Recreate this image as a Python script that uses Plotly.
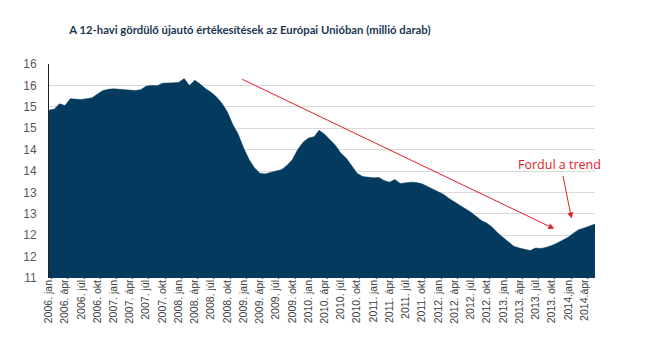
import plotly.graph_objects as go
import pandas as pd

title_text = "A 12-havi gördülő újautó értékesítések az Európai Unióban (millió darab)"

# monthly 12-month rolling sales, million units, 2006 Jan .. 2014 Jun
sales = [
    14.92, 14.95, 15.07, 15.03, 15.19, 15.18, 15.17, 15.19, 15.21, 15.30, 15.38, 15.41,  # 2006
    15.42, 15.41, 15.40, 15.40, 15.38, 15.40, 15.48, 15.50, 15.49, 15.55, 15.55, 15.56,  # 2007
    15.57, 15.66, 15.50, 15.62, 15.53, 15.42, 15.34, 15.23, 15.08, 14.88, 14.58, 14.36,  # 2008
    14.03, 13.76, 13.58, 13.45, 13.43, 13.47, 13.50, 13.53, 13.63, 13.76, 14.00, 14.17,  # 2009
    14.27, 14.30, 14.45, 14.36, 14.22, 14.10, 13.92, 13.80, 13.62, 13.45, 13.37, 13.35,  # 2010
    13.34, 13.35, 13.28, 13.24, 13.30, 13.21, 13.22, 13.24, 13.23, 13.20, 13.14, 13.08,  # 2011
    13.03, 12.95, 12.86, 12.78, 12.70, 12.62, 12.54, 12.44, 12.34, 12.28, 12.18, 12.05,  # 2012
    11.95, 11.84, 11.74, 11.70, 11.67, 11.64, 11.70, 11.69, 11.72, 11.76, 11.82, 11.88,  # 2013
    11.95, 12.05, 12.13, 12.17, 12.22, 12.26,                                            # 2014
]
start_month = "2006-01-01"

tick_dates = [
    "2006-01-01", "2006-04-01", "2006-07-01", "2006-10-01",
    "2007-01-01", "2007-04-01", "2007-07-01", "2007-10-01",
    "2008-01-01", "2008-04-01", "2008-07-01", "2008-10-01",
    "2009-01-01", "2009-04-01", "2009-07-01", "2009-10-01",
    "2010-01-01", "2010-04-01", "2010-07-01", "2010-10-01",
    "2011-01-01", "2011-04-01", "2011-07-01", "2011-10-01",
    "2012-01-01", "2012-04-01", "2012-07-01", "2012-10-01",
    "2013-01-01", "2013-04-01", "2013-07-01", "2013-10-01",
    "2014-01-01", "2014-04-01",
]
tick_labels = [
    "2006. jan.", "2006. ápr.", "2006. júl.", "2006. okt.",
    "2007. jan.", "2007. ápr.", "2007. júl.", "2007. okt.",
    "2008. jan.", "2008. ápr.", "2008. júl.", "2008. okt.",
    "2009. jan.", "2009. ápr.", "2009. júl.", "2009. okt.",
    "2010. jan.", "2010. ápr.", "2010. júl.", "2010. okt.",
    "2011. jan.", "2011. ápr.", "2011. júl.", "2011. okt.",
    "2012. jan.", "2012. ápr.", "2012. júl.", "2012. okt.",
    "2013. jan.", "2013. ápr.", "2013. júl.", "2013. okt.",
    "2014.jan.", "2014.ápr.",
]
y_tickvals = [11, 11.5, 12, 12.5, 13, 13.5, 14, 14.5, 15, 15.5, 16]
y_ticktext = ["11", "12", "12", "13", "13", "14", "14", "15", "15", "16", "16"]

annotation_text = "Fordul a trend"

months = pd.date_range(start_month, periods=len(sales), freq="MS")

navy = "#033a5e"
red = "#e0202a"

fig = go.Figure()
fig.add_trace(go.Scatter(
    x=months, y=sales, mode="lines", fill="tozeroy",
    line=dict(color=navy, width=0.5), fillcolor=navy,
    hoverinfo="x+y", showlegend=False,
))

fig.update_layout(
    width=645, height=360,
    margin=dict(l=41, r=58, t=56, b=90),
    paper_bgcolor="white", plot_bgcolor="white",
    title=dict(text=title_text, x=0.375, xanchor="center", y=0.94, yanchor="middle",
               xref="container", yref="container",
               font=dict(family="Lato", size=11.3, weight="bold", color="#1c3654")),
    font=dict(family="Liberation Sans, Arial", size=11, color="#595959"),
    xaxis=dict(
        range=[months[0], months[-1]],
        tickvals=tick_dates, ticktext=tick_labels, tickangle=-90,
        showgrid=False, zeroline=False, showline=False, ticks="",
        ticklabelstandoff=-4,
        tickfont=dict(size=10.5, color="#404040"),
    ),
    yaxis=dict(
        range=[11, 16], tickvals=y_tickvals, ticktext=y_ticktext,
        showgrid=True, gridcolor="#d9d9d9", gridwidth=1, zeroline=False,
        showline=True, linecolor="#222222", linewidth=1, ticks="",
        ticklabelstandoff=9,
        tickfont=dict(size=12, color="#595959"),
    ),
    annotations=[
        dict(x="2013-10-15", y=12.15, ax="2008-12-15", ay=15.66,
             xref="x", yref="y", axref="x", ayref="y",
             text="", showarrow=True, arrowhead=2, arrowsize=1.2, arrowwidth=1,
             arrowcolor=red),
        dict(x="2014-01-20", y=12.39, ax="2013-12-01", ay=13.42,
             xref="x", yref="y", axref="x", ayref="y",
             text="", showarrow=True, arrowhead=2, arrowsize=1.2, arrowwidth=1,
             arrowcolor=red),
        dict(x="2013-11-15", y=13.65, xref="x", yref="y", text=annotation_text,
             showarrow=False, xanchor="center", yanchor="middle",
             font=dict(family="Open Sans", size=12.5, color=red)),
    ],
)

fig.write_html("out.html")
